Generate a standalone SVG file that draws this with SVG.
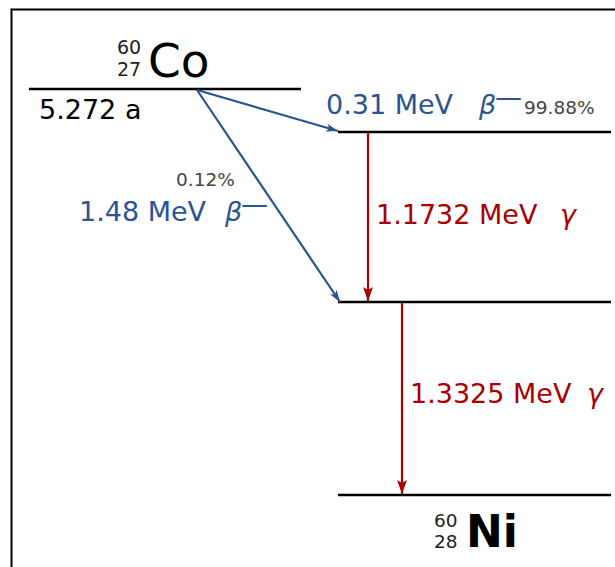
<svg xmlns="http://www.w3.org/2000/svg" width="615" height="567" viewBox="0 0 615 567">
<style>
text{font-family:"DejaVu Sans","Liberation Sans",sans-serif}
.lvl{stroke:#000;stroke-width:2.5;fill:none}
.b{stroke:#2a5494;stroke-width:2.2;fill:none}
.g{stroke:#aa0000;stroke-width:2.2;fill:none}
.bt{fill:#2a5494;font-size:27px}
.rt{fill:#aa0000;font-size:27px}
.pc{fill:#444;font-size:18.5px}
.gr{font-style:italic}
</style>
<defs>
<marker id="ab" viewBox="0 0 12 8" refX="12" refY="4" markerWidth="12" markerHeight="8" markerUnits="userSpaceOnUse" orient="auto"><path d="M0,0 L12,4 L0,8 L3,4 Z" fill="#2a5494"/></marker>
<marker id="ar" viewBox="0 0 10 14" refX="5" refY="14" markerWidth="10" markerHeight="14" markerUnits="userSpaceOnUse" orient="0"><path d="M0,0 L5,3 L10,0 L5,14 Z" fill="#aa0000"/></marker>
</defs>
<rect x="11.5" y="9.5" width="620" height="580" fill="none" stroke="#000" stroke-width="2"/>
<g id="co60">
<line class="lvl" x1="29" y1="89" x2="301" y2="89"/>
<text x="117" y="54" font-size="19" fill="#222">60</text>
<text x="117" y="76" font-size="19" fill="#222">27</text>
<text x="148" y="77" font-size="47">Co</text>
<text x="39" y="119" font-size="27">5.272 a</text>
</g>
<g id="level1">
<line class="lvl" x1="338" y1="132" x2="611" y2="132"/>
</g>
<g id="level2">
<line class="lvl" x1="338" y1="302" x2="611" y2="302"/>
</g>
<g id="ni60">
<line class="lvl" x1="338" y1="495" x2="611" y2="495"/>
<text x="434" y="527" font-size="18.5" fill="#222">60</text>
<text x="434" y="548" font-size="18.5" fill="#222">28</text>
<text x="466" y="547" font-size="44" font-weight="bold">Ni</text>
</g>
<g id="connectors">
<line class="b" x1="197" y1="90" x2="338" y2="131" marker-end="url(#ab)"/>
<line class="b" x1="197" y1="90" x2="340" y2="302" marker-end="url(#ab)"/>
<line class="g" x1="368" y1="133" x2="368" y2="301" marker-end="url(#ar)"/>
<line class="g" x1="402" y1="303" x2="402" y2="494" marker-end="url(#ar)"/>
</g>
<g id="labels">
<text class="bt" x="326" y="114">0.31 MeV</text>
<text class="bt gr" x="479" y="114">β</text>
<text class="bt" x="495" y="106" font-size="22">—</text>
<text class="pc" x="524" y="114">99.88%</text>
<text class="pc" x="176" y="186">0.12%</text>
<text class="bt" x="79" y="221">1.48 MeV</text>
<text class="bt gr" x="225" y="221">β</text>
<text class="bt" x="241" y="213" font-size="22">—</text>
<text class="rt" x="376" y="224">1.1732 MeV</text>
<text class="rt gr" x="560" y="224">γ</text>
<text class="rt" x="410" y="403">1.3325 MeV</text>
<text class="rt gr" x="587" y="403">γ</text>
</g>
</svg>
